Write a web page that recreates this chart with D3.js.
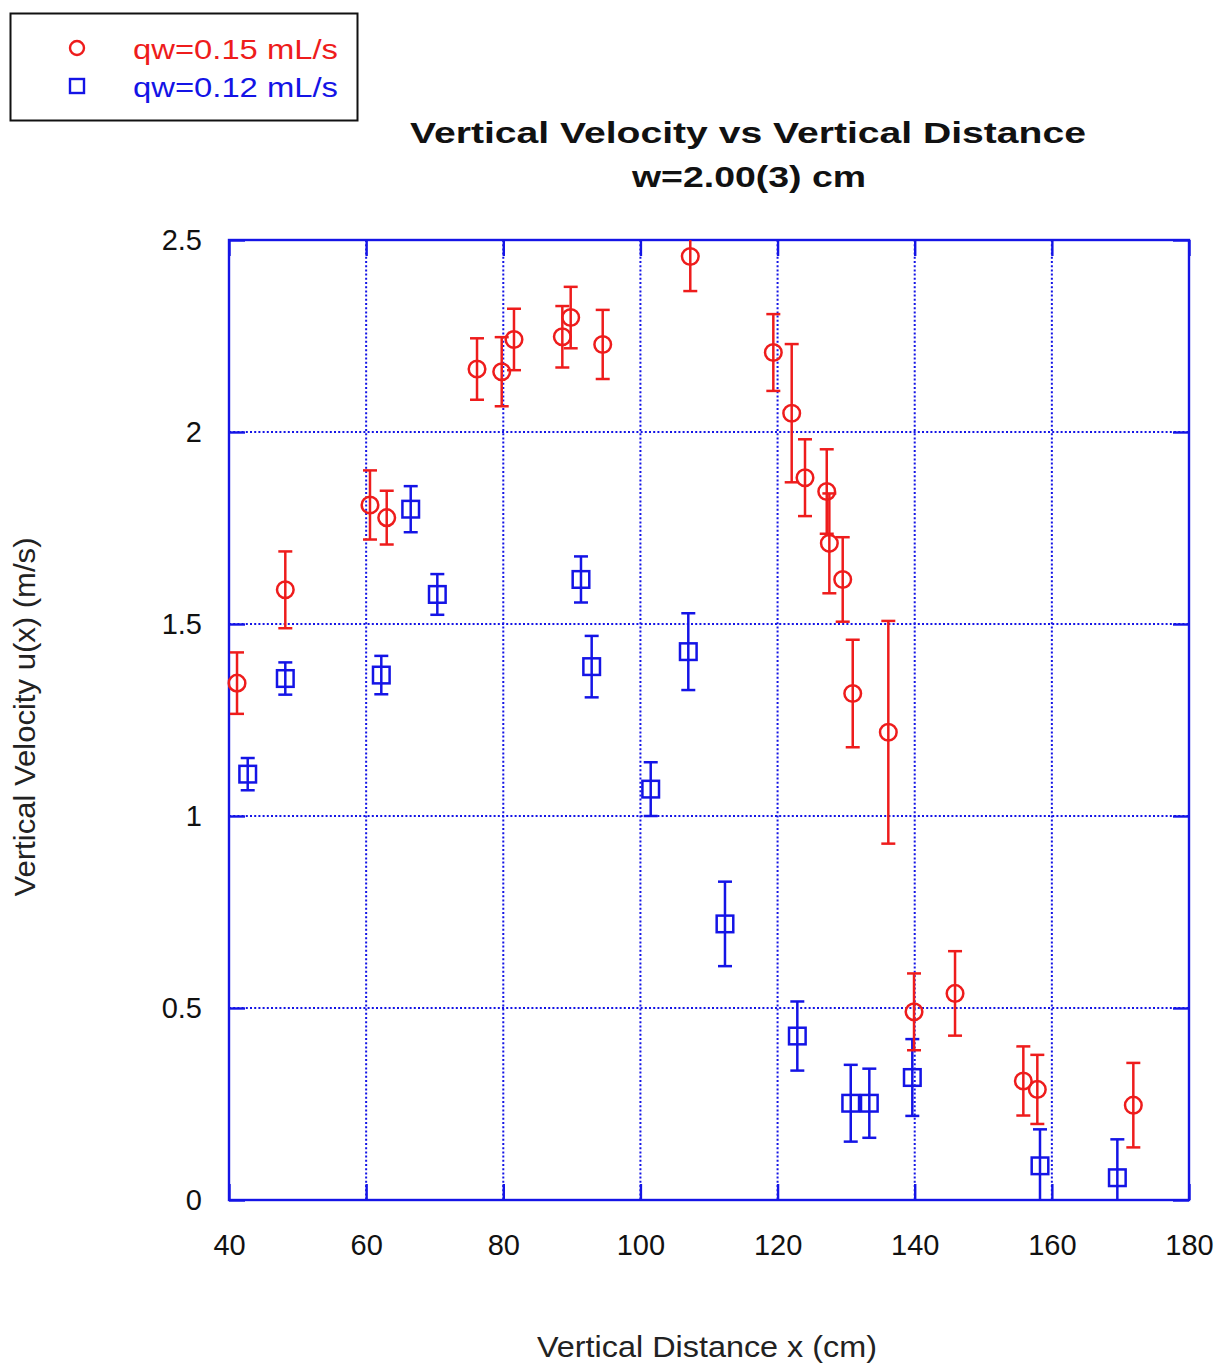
<!DOCTYPE html>
<html>
<head>
<meta charset="utf-8">
<script src="https://cdn.jsdelivr.net/npm/d3@7"></script>
<style>
  html, body { margin: 0; padding: 0; background: #fff; }
  svg { display: block; font-family: "Liberation Sans", Arial, Helvetica, sans-serif; }
</style>
</head>
<body>
<svg id="chart" width="1220" height="1364"></svg>
<script>
// ---- data ----
const redX   = [41.17, 48.21, 60.56, 63.0, 76.17, 79.77, 81.56, 88.61, 89.83, 94.5, 107.27, 119.38, 122.06, 124.0, 127.17, 127.55, 129.5, 130.96, 136.15, 139.9, 145.88, 155.84, 157.88, 171.88];
const redY   = [1.346, 1.589, 1.81, 1.777, 2.164, 2.157, 2.241, 2.248, 2.298, 2.228, 2.457, 2.207, 2.049, 1.881, 1.845, 1.710, 1.616, 1.319, 1.218, 0.490, 0.538, 0.310, 0.288, 0.247];
const redErr = [0.08, 0.10, 0.09, 0.07, 0.08, 0.09, 0.08, 0.08, 0.08, 0.09, 0.09, 0.10, 0.18, 0.10, 0.11, 0.13, 0.11, 0.14, 0.29, 0.10, 0.11, 0.09, 0.09, 0.11];

const blueX   = [42.73, 48.21, 62.21, 66.5, 70.38, 91.33, 92.89, 101.5, 106.98, 112.33, 122.88, 130.67, 133.38, 139.65, 158.27, 169.55];
const blueY   = [1.109, 1.358, 1.367, 1.799, 1.577, 1.616, 1.389, 1.07, 1.428, 0.719, 0.427, 0.252, 0.252, 0.319, 0.089, 0.058];
const blueErr = [0.042, 0.042, 0.05, 0.06, 0.053, 0.06, 0.08, 0.07, 0.10, 0.11, 0.09, 0.10, 0.09, 0.10, 0.095, 0.10];

const xTicks = [40, 60, 80, 100, 120, 140, 160, 180];
const yTicks = [0, 0.5, 1, 1.5, 2, 2.5];
const yTickLabels = ["0", "0.5", "1", "1.5", "2", "2.5"];

const seriesNames = ["qw=0.15 mL/s", "qw=0.12 mL/s"];
const titleLines = ["Vertical Velocity vs Vertical Distance", "w=2.00(3) cm"];
const xTitle = "Vertical Distance x (cm)";
const yTitle = "Vertical Velocity u(x) (m/s)";

// ---- layout ----
const RED = "#ee1c1c", BLUE = "#1414e6";
const L = 229, R = 1189, T = 240, B = 1200;
const svg = d3.select("#chart");
const x = d3.scaleLinear().domain([40, 180]).range([L, R]);
const y = d3.scaleLinear().domain([0, 2.5]).range([B, T]);

// grid
const grid = svg.append("g");
grid.selectAll("line.gx").data(xTicks.slice(1, -1)).join("line")
  .attr("x1", d => x(d)).attr("x2", d => x(d)).attr("y1", T).attr("y2", B)
  .attr("stroke", BLUE).attr("stroke-width", 2).attr("stroke-dasharray", "2,2.2");
grid.selectAll("line.gy").data(yTicks.slice(1, -1)).join("line")
  .attr("y1", d => y(d)).attr("y2", d => y(d)).attr("x1", L).attr("x2", R)
  .attr("stroke", BLUE).attr("stroke-width", 2).attr("stroke-dasharray", "2,2.2");

// axes with inner ticks
const tickLen = 16;
const axB = svg.append("g").attr("transform", `translate(0,${B})`)
  .call(d3.axisBottom(x).tickValues(xTicks).tickSize(-tickLen).tickPadding(32).tickFormat(d3.format("d")));
const axT = svg.append("g").attr("transform", `translate(0,${T})`)
  .call(d3.axisTop(x).tickValues(xTicks).tickSize(-tickLen).tickFormat(""));
const axL = svg.append("g").attr("transform", `translate(${L},0)`)
  .call(d3.axisLeft(y).tickValues(yTicks).tickSize(-tickLen).tickPadding(26).tickFormat((d, i) => yTickLabels[i]));
const axR = svg.append("g").attr("transform", `translate(${R},0)`)
  .call(d3.axisRight(y).tickValues(yTicks).tickSize(-tickLen).tickFormat(""));
[axB, axT, axL, axR].forEach(a => {
  a.select(".domain").remove();
  a.selectAll(".tick line").attr("stroke", BLUE).attr("stroke-width", 2.4);
  a.selectAll(".tick text").attr("fill", "#111").attr("font-size", 29)
    .attr("font-family", "'Liberation Sans', Arial, sans-serif");
});
axB.selectAll(".tick text").attr("dy", null).attr("y", 55);
axL.selectAll(".tick text").attr("dy", "0.32em").attr("x", -27);

// frame
svg.append("rect").attr("x", L).attr("y", T).attr("width", R - L).attr("height", B - T)
  .attr("fill", "none").attr("stroke", BLUE).attr("stroke-width", 2.4);

// clip for error bars
svg.append("clipPath").attr("id", "plotclip").append("rect")
  .attr("x", L - 20).attr("y", T).attr("width", R - L + 40).attr("height", B - T);

function drawSeries(xs, ys, es, color, shape) {
  const data = xs.map((v, i) => ({ x: v, y: ys[i], e: es[i] }));
  const g = svg.append("g").attr("clip-path", "url(#plotclip)")
    .attr("stroke", color).attr("stroke-width", 2.5).attr("fill", "none");
  const cap = 7;
  data.forEach(d => {
    const cx = x(d.x), top = y(d.y + d.e), bot = y(d.y - d.e);
    g.append("line").attr("x1", cx).attr("x2", cx).attr("y1", top).attr("y2", bot);
    g.append("line").attr("x1", cx - cap).attr("x2", cx + cap).attr("y1", top).attr("y2", top);
    g.append("line").attr("x1", cx - cap).attr("x2", cx + cap).attr("y1", bot).attr("y2", bot);
    if (shape === "circle") {
      g.append("circle").attr("cx", cx).attr("cy", y(d.y)).attr("r", 8.3);
    } else {
      g.append("rect").attr("x", cx - 8.3).attr("y", y(d.y) - 8.3).attr("width", 16.6).attr("height", 16.6);
    }
  });
}
drawSeries(blueX, blueY, blueErr, BLUE, "square");
drawSeries(redX, redY, redErr, RED, "circle");

// title
svg.append("text").attr("x", 748).attr("y", 143).attr("text-anchor", "middle")
  .attr("font-size", 29).attr("font-weight", "bold").attr("fill", "#111")
  .attr("textLength", 676).attr("lengthAdjust", "spacingAndGlyphs").text(titleLines[0]);
svg.append("text").attr("x", 749).attr("y", 187).attr("text-anchor", "middle")
  .attr("font-size", 29).attr("font-weight", "bold").attr("fill", "#111")
  .attr("textLength", 234).attr("lengthAdjust", "spacingAndGlyphs").text(titleLines[1]);

// axis titles
svg.append("text").attr("x", 707).attr("y", 1357).attr("text-anchor", "middle")
  .attr("font-size", 29).attr("fill", "#222")
  .attr("textLength", 340).attr("lengthAdjust", "spacingAndGlyphs").text(xTitle);
svg.append("text").attr("transform", "translate(35,717) rotate(-90)").attr("text-anchor", "middle")
  .attr("font-size", 29).attr("fill", "#222")
  .attr("textLength", 359).attr("lengthAdjust", "spacingAndGlyphs").text(yTitle);

// legend
const lg = svg.append("g");
lg.append("rect").attr("x", 10.5).attr("y", 13.5).attr("width", 347).attr("height", 107)
  .attr("fill", "#fff").attr("stroke", "#111").attr("stroke-width", 2);
lg.append("circle").attr("cx", 77).attr("cy", 48).attr("r", 7)
  .attr("fill", "none").attr("stroke", RED).attr("stroke-width", 2.4);
lg.append("rect").attr("x", 70).attr("y", 79).attr("width", 14).attr("height", 14)
  .attr("fill", "none").attr("stroke", BLUE).attr("stroke-width", 2.4);
lg.append("text").attr("x", 133).attr("y", 59).attr("font-size", 27).attr("fill", RED)
  .attr("textLength", 205).attr("lengthAdjust", "spacingAndGlyphs").text(seriesNames[0]);
lg.append("text").attr("x", 133).attr("y", 97).attr("font-size", 27).attr("fill", BLUE)
  .attr("textLength", 205).attr("lengthAdjust", "spacingAndGlyphs").text(seriesNames[1]);
</script>
</body>
</html>
